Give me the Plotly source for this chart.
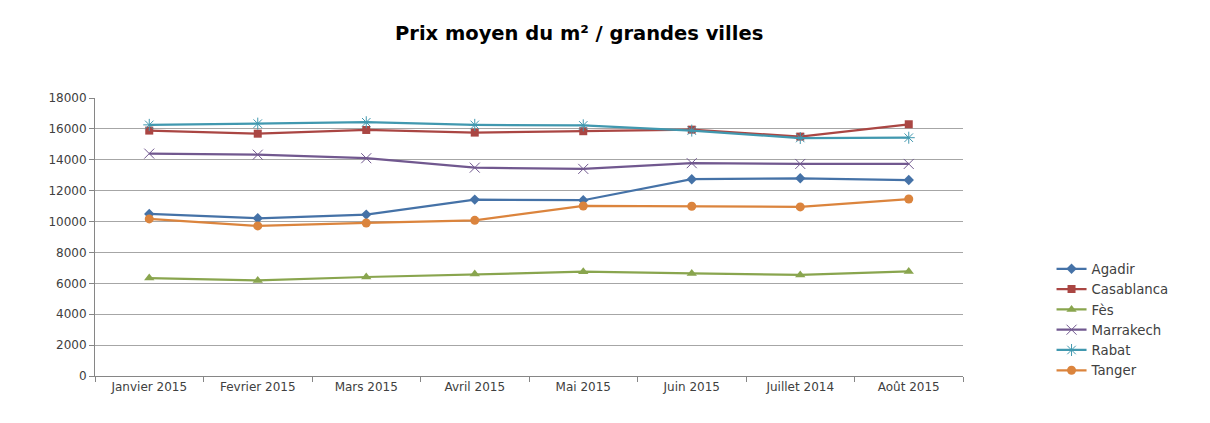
import plotly.graph_objects as go

months = ["Janvier 2015", "Fevrier 2015", "Mars 2015", "Avril 2015",
          "Mai 2015", "Juin 2015", "Juillet 2014", "Août 2015"]

agadir = [10490, 10210, 10450, 11420, 11380, 12740, 12800, 12690]
casablanca = [15890, 15690, 15930, 15760, 15850, 15950, 15500, 16300]
fes = [6340, 6190, 6410, 6600, 6750, 6640, 6540, 6770]
marrakech = [14400, 14330, 14100, 13490, 13410, 13780, 13730, 13730]
rabat = [16260, 16340, 16430, 16260, 16230, 15890, 15410, 15430]
tanger = [10170, 9720, 9910, 10080, 11010, 10990, 10950, 11460]

series = [
    ("Agadir", agadir, "#4572A7", dict(symbol="diamond", size=8)),
    ("Casablanca", casablanca, "#AA4643", dict(symbol="square", size=8)),
    ("Fès", fes, "#89A54E", dict(symbol="triangle-up", size=9)),
    ("Marrakech", marrakech, "#71588F", dict(symbol="x-thin-open", size=10, line=dict(width=1, color="#9C88B8"))),
    ("Rabat", rabat, "#4198AF", dict(symbol="asterisk-open", size=10, line=dict(width=1, color="#5BB8D0"))),
    ("Tanger", tanger, "#DB843D", dict(symbol="circle", size=9)),
]

fig = go.Figure()
for name, vals, color, marker in series:
    marker = dict(marker)
    marker.setdefault("color", color)
    fig.add_trace(go.Scatter(
        x=months, y=vals, name=name, mode="lines+markers",
        line=dict(color=color, width=2.25), marker=marker,
    ))

axis_gray = "#868686"
fig.update_layout(
    width=1210, height=423,
    margin=dict(l=87, r=255, t=90, b=55),
    paper_bgcolor="white", plot_bgcolor="white",
    font=dict(family="DejaVu Sans, sans-serif", size=12, color="#404040"),
    title=dict(text="<b>Prix moyen du m² / grandes villes</b>", x=0.472, xanchor="center",
               y=0.941, yanchor="middle", font=dict(size=19.5, color="black")),
    showlegend=True,
    legend=dict(x=1.102, xanchor="left", y=0.44, yanchor="top",
                font=dict(size=13.3, color="#404040"), bgcolor="rgba(0,0,0,0)",
                itemwidth=30),
    xaxis=dict(type="category", range=[-0.5, 7.5], tickson="boundaries",
               ticks="outside", ticklen=5, tickcolor=axis_gray,
               showline=True, linecolor=axis_gray, linewidth=1, showgrid=False,
               tickfont=dict(size=12, color="#404040")),
    yaxis=dict(range=[0, 18000], dtick=2000, tickformat="d", ticks="outside", ticklen=5,
               tickcolor=axis_gray, showline=True, linecolor=axis_gray,
               gridcolor="#a6a6a6", gridwidth=1, zeroline=False,
               tickfont=dict(size=12, color="#404040")),
)

fig.write_html("out.html")
